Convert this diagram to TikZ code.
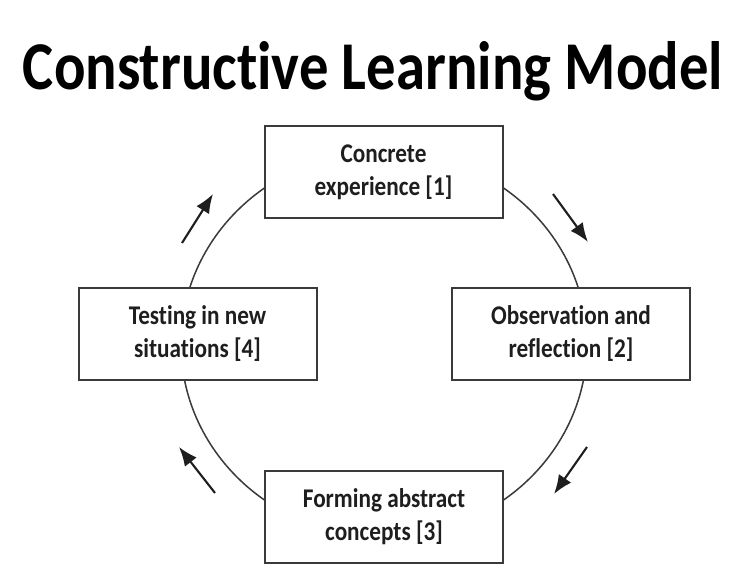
\documentclass[tikz,border=0pt]{standalone}
\usepackage{fontspec}
\setmainfont{Carlito}[Ligatures=NoCommon]
\newfontfamily\stagefont{Carlito}[Ligatures=NoCommon, FakeStretch=0.86]
\usetikzlibrary{arrows.meta}
\definecolor{ink}{HTML}{1E1E1E}
\definecolor{rim}{HTML}{3A3A3A}
\tikzset{
  stage/.style={draw=rim, line width=2pt, fill=white, minimum width=238pt,
    minimum height=92pt, align=center, text=ink, inner sep=0pt,
    font=\stagefont\bfseries\fontsize{27}{33}\selectfont},
  cycle/.style={draw=rim, line width=1.5pt},
  flow/.style={draw=ink, line width=2.1pt, -{Latex[length=19pt,width=15pt]}}
}
\begin{document}
\begin{tikzpicture}[x=1pt,y=-1pt]
  \useasboundingbox[fill=white] (0,0) rectangle (738,580);

  % title
  \node[anchor=base, text=black, inner sep=0pt,
        font=\bfseries\fontsize{62}{62}\selectfont] (title) at (373,90)
        {\resizebox{700pt}{48pt}{Constructive Learning Model}};

  % the learning cycle behind the four stages
  \draw[cycle] (384,344) ellipse [x radius=203pt, y radius=193pt];

  \node[stage] (s1) at (383.5,172) {Concrete\\experience [1]};
  \node[stage] (s2) at (571,333.5) {Observation and\\reflection [2]};
  \node[stage] (s3) at (384,516.5) {Forming abstract\\concepts [3]};
  \node[stage] (s4) at (197.5,333.5) {Testing in new\\situations [4]};

  % direction markers around the cycle
  \coordinate (a1s) at (553,194); \coordinate (a1e) at (588,242);
  \coordinate (a2s) at (587,447); \coordinate (a2e) at (554,494);
  \coordinate (a3s) at (215,493); \coordinate (a3e) at (179,447);
  \coordinate (a4s) at (182,243); \coordinate (a4e) at (213,194);
  \draw[flow] (a1s) -- (a1e);
  \draw[flow] (a2s) -- (a2e);
  \draw[flow] (a3s) -- (a3e);
  \draw[flow] (a4s) -- (a4e);
\end{tikzpicture}
\end{document}
